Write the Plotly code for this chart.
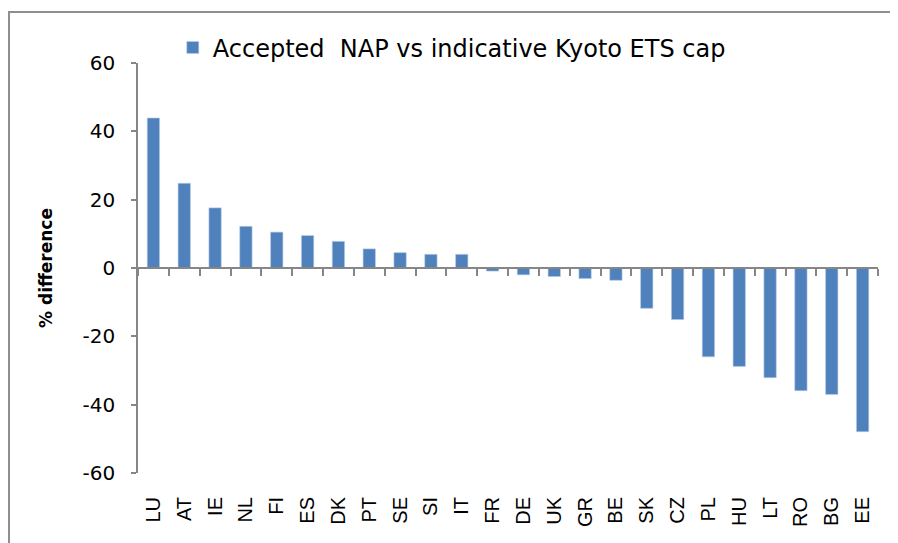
import plotly.graph_objects as go

countries = ["LU", "AT", "IE", "NL", "FI", "ES", "DK", "PT", "SE", "SI", "IT", "FR",
             "DE", "UK", "GR", "BE", "SK", "CZ", "PL", "HU", "LT", "RO", "BG", "EE"]
pct_diff = [43.9, 24.8, 17.6, 12.2, 10.5, 9.5, 7.8, 5.6, 4.5, 4.0, 4.0, -0.9,
            -2.0, -2.5, -3.1, -3.6, -11.8, -15.1, -26.0, -28.8, -32.1, -35.9, -37.0, -47.9]
y_ticks = [-60, -40, -20, 0, 20, 40, 60]
y_tick_text = ["-60", "-40", "-20", "0", "20", "40", "60"]
series_name = "Accepted  NAP vs indicative Kyoto ETS cap"

AXIS = "#868686"
BAR = "#4F81BD"

fig = go.Figure()
fig.add_trace(go.Bar(x=countries, y=pct_diff, name=series_name,
                     marker=dict(color=BAR, line=dict(color="#B9CDE5", width=0.6)),
                     xaxis="x", yaxis="y"))
# invisible helper trace for the zero-line axis with boundary ticks
fig.add_trace(go.Scatter(x=countries, y=pct_diff, mode="none", showlegend=False,
                         hoverinfo="skip", xaxis="x2", yaxis="y"))

fig.update_layout(
    width=890, height=535,
    margin=dict(l=130, r=20, t=55, b=70),
    paper_bgcolor="white", plot_bgcolor="white",
    bargap=0.6,
    showlegend=True,
    legend=dict(x=0.047, y=1.037, xanchor="left", yanchor="middle",
                font=dict(family="DejaVu Sans", size=24, color="#000000"),
                bgcolor="rgba(0,0,0,0)", itemwidth=30),
    xaxis=dict(type="category", categoryorder="array", categoryarray=countries,
               showline=False, ticks="", showgrid=False, zeroline=False,
               tickangle=-90, ticklabelstandoff=19,
               tickfont=dict(family="Liberation Sans", size=20, color="#000000"),
               anchor="y"),
    xaxis2=dict(type="category", categoryorder="array", categoryarray=countries,
                overlaying="x", matches="x", anchor="free", position=0.5,
                showline=True, linecolor=AXIS, linewidth=1.5,
                ticks="outside", tickson="boundaries", ticklen=7, tickwidth=1.5, tickcolor=AXIS,
                showticklabels=False, showgrid=False, zeroline=False),
    yaxis=dict(range=[-60, 60], tickvals=y_ticks, ticktext=y_tick_text,
               showline=True, linecolor=AXIS, linewidth=1.5,
               ticks="outside", ticklen=5, tickwidth=1.5, tickcolor=AXIS,
               showgrid=False, zeroline=False, ticklabelstandoff=12,
               tickfont=dict(family="DejaVu Sans", size=20, color="#000000"),
               title=dict(text="<b>% difference</b>", standoff=26,
                          font=dict(family="DejaVu Sans", size=17, color="#000000"))),
)

# outer chart-area frame (only top and left edges fall inside the picture)
fig.add_shape(type="path", xref="paper", yref="paper",
              path="M -0.1743,-0.25 L -0.1743,1.1244 L 1.08,1.1244",
              line=dict(color="#8E8E8E", width=2), layer="below")

fig.write_html("out.html")
